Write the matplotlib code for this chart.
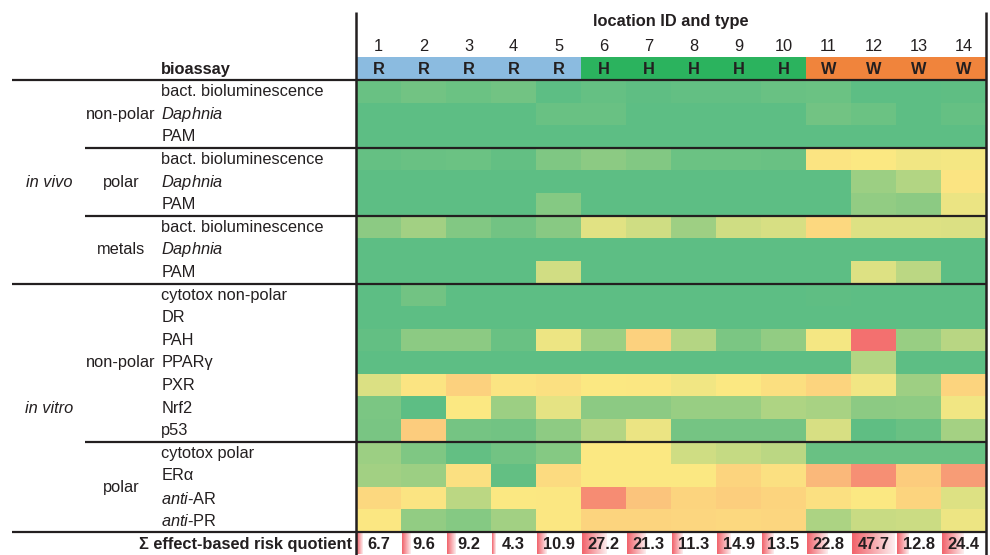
import numpy as np
import matplotlib
matplotlib.use("Agg")
import matplotlib.pyplot as plt
from matplotlib.colors import LinearSegmentedColormap, ListedColormap

plt.rcParams['font.family'] = 'Liberation Sans'
plt.rcParams['mathtext.fontset'] = 'custom'
plt.rcParams['mathtext.rm'] = 'Liberation Sans'
plt.rcParams['mathtext.it'] = 'Liberation Sans:italic'

# locations and their type (R, H, W)
locations = [str(i) for i in range(1, 15)]
loc_types = ['R'] * 5 + ['H'] * 5 + ['W'] * 4

# bioassays (rows), top to bottom
assays = ['bact. bioluminescence', r'$\mathit{Daphnia}$', 'PAM',
          'bact. bioluminescence', r'$\mathit{Daphnia}$', 'PAM',
          'bact. bioluminescence', r'$\mathit{Daphnia}$', 'PAM',
          'cytotox non-polar', 'DR', 'PAH', 'PPARγ', 'PXR', 'Nrf2', 'p53',
          'cytotox polar', 'ERα', r'$\mathit{anti}$-AR', r'$\mathit{anti}$-PR']

# relative risk per bioassay and location (0 = low, 0.5 = medium, 1 = high)
risk = np.array([
    [0.04, 0.07, 0.05, 0.07, 0.00, 0.03, 0.01, 0.02, 0.02, 0.04, 0.05, 0.00, 0.00, 0.01],
    [0.00, 0.00, 0.00, 0.00, 0.04, 0.04, 0.00, 0.00, 0.00, 0.00, 0.07, 0.05, 0.00, 0.03],
    [0.00, 0.00, 0.00, 0.00, 0.00, 0.00, 0.00, 0.00, 0.00, 0.00, 0.00, 0.00, 0.00, 0.00],
    [0.03, 0.04, 0.05, 0.02, 0.11, 0.15, 0.12, 0.05, 0.05, 0.04, 0.52, 0.50, 0.47, 0.48],
    [0.00, 0.00, 0.00, 0.00, 0.00, 0.00, 0.00, 0.00, 0.00, 0.00, 0.00, 0.20, 0.27, 0.52],
    [0.00, 0.00, 0.00, 0.00, 0.13, 0.00, 0.00, 0.00, 0.00, 0.00, 0.00, 0.17, 0.15, 0.45],
    [0.15, 0.22, 0.12, 0.07, 0.14, 0.42, 0.36, 0.21, 0.36, 0.39, 0.58, 0.41, 0.41, 0.40],
    [0.00, 0.00, 0.00, 0.00, 0.00, 0.00, 0.00, 0.00, 0.00, 0.00, 0.00, 0.00, 0.00, 0.00],
    [0.00, 0.00, 0.00, 0.00, 0.37, 0.00, 0.00, 0.00, 0.00, 0.00, 0.00, 0.41, 0.30, 0.00],
    [0.00, 0.07, 0.00, 0.00, 0.00, 0.00, 0.00, 0.00, 0.00, 0.00, 0.01, 0.00, 0.00, 0.00],
    [0.00, 0.00, 0.00, 0.00, 0.00, 0.00, 0.00, 0.00, 0.00, 0.00, 0.00, 0.00, 0.00, 0.00],
    [0.02, 0.15, 0.15, 0.04, 0.46, 0.20, 0.62, 0.28, 0.10, 0.17, 0.48, 1.00, 0.19, 0.29],
    [0.00, 0.00, 0.00, 0.00, 0.00, 0.00, 0.00, 0.00, 0.00, 0.00, 0.00, 0.27, 0.00, 0.00],
    [0.40, 0.52, 0.62, 0.52, 0.54, 0.50, 0.51, 0.47, 0.50, 0.55, 0.60, 0.47, 0.21, 0.60],
    [0.10, 0.00, 0.50, 0.20, 0.43, 0.15, 0.15, 0.19, 0.19, 0.26, 0.24, 0.15, 0.16, 0.47],
    [0.09, 0.64, 0.08, 0.07, 0.16, 0.28, 0.45, 0.08, 0.08, 0.08, 0.39, 0.01, 0.04, 0.23],
    [0.20, 0.11, 0.02, 0.07, 0.13, 0.50, 0.50, 0.36, 0.33, 0.30, 0.04, 0.04, 0.04, 0.04],
    [0.22, 0.20, 0.54, 0.02, 0.57, 0.50, 0.50, 0.50, 0.60, 0.54, 0.72, 0.88, 0.64, 0.83],
    [0.58, 0.52, 0.30, 0.50, 0.51, 0.89, 0.67, 0.60, 0.63, 0.60, 0.54, 0.50, 0.60, 0.41],
    [0.51, 0.17, 0.13, 0.22, 0.51, 0.60, 0.60, 0.59, 0.58, 0.59, 0.25, 0.34, 0.35, 0.46],
])

# summed effect-based risk quotient per location
risk_sum = [6.7, 9.6, 9.2, 4.3, 10.9, 27.2, 21.3, 11.3, 14.9, 13.5, 22.8, 47.7, 12.8, 24.4]

ink = '#231F20'
risk_cmap = LinearSegmentedColormap.from_list(
    'risk', [(0, '#5DBE84'), (0.5, '#FBE983'), (0.62, '#FDD17E'),
             (0.75, '#FAB27A'), (1, '#F3706F')])
type_colors = {'R': '#8BBBE0', 'H': '#2BB35E', 'W': '#F0843C'}
bar_cmap = LinearSegmentedColormap.from_list('bar', ['#F1636B', '#FDEEEF'])

fig = plt.figure(figsize=(9.9, 5.55), dpi=100)
ax = fig.add_axes([0, 0, 1, 1])

# heat map of the bioassays
ax.imshow(risk, cmap=risk_cmap, vmin=0, vmax=1, extent=(0, 14, 20, 0),
          aspect='auto', interpolation='nearest', zorder=1)

# location type strip
type_keys = list(type_colors)
type_idx = np.array([[type_keys.index(t) for t in loc_types]])
ax.imshow(type_idx, cmap=ListedColormap([type_colors[k] for k in type_keys]),
          vmin=-0.5, vmax=len(type_keys) - 0.5, extent=(0, 14, 0, -1),
          aspect='auto', interpolation='nearest', zorder=1)

for j, (loc, t) in enumerate(zip(locations, loc_types)):
    ax.text(j + 0.5, -0.5, t, ha='center', va='center', fontsize=11.8,
            fontweight='bold', color=ink)
    ax.text(j + 0.5, -1.5, loc, ha='center', va='center', fontsize=11.8, color=ink)

ax.text(7, -2.6, 'location ID and type', ha='center', va='center',
        fontsize=11.8, fontweight='bold', color=ink)
ax.text(-4.33, -0.5, 'bioassay', ha='left', va='center', fontsize=11.8,
        fontweight='bold', color=ink)

# row labels
for i, name in enumerate(assays):
    ax.text(-4.33, i + 0.5, name, ha='left', va='center', fontsize=11.8, color=ink)

# grouping labels
groups = [('non-polar', 1.5), ('polar', 4.5), ('metals', 7.5),
          ('non-polar', 12.5), ('polar', 18.0)]
for name, y in groups:
    ax.text(-5.22, y, name, ha='center', va='center', fontsize=11.8, color=ink)
ax.text(-6.82, 4.5, 'in vivo', ha='center', va='center', fontsize=11.8,
        style='italic', color=ink)
ax.text(-6.82, 14.5, 'in vitro', ha='center', va='center', fontsize=11.8,
        style='italic', color=ink)

# data bars for the summed risk quotient
grad = np.linspace(0, 1, 64).reshape(1, -1)
max_sum = max(risk_sum)
for j, v in enumerate(risk_sum):
    w = 0.94 * v / max_sum
    ax.imshow(grad, cmap=bar_cmap, extent=(j + 0.03, j + 0.03 + w, 20.97, 20.06),
              aspect='auto', interpolation='bilinear', zorder=1)
    ax.text(j + 0.5, 20.52, f'{v}', ha='center', va='center', fontsize=11.8,
            fontweight='bold', color=ink, zorder=3)
ax.text(-0.08, 20.52, 'Σ effect-based risk quotient', ha='right', va='center',
        fontsize=11.8, fontweight='bold', color=ink)

# separator lines
for y in (0, 9, 20):
    ax.plot([-7.64, 14], [y, y], color=ink, lw=1.6, zorder=2, solid_capstyle='butt')
for y in (3, 6, 16):
    ax.plot([-6.02, 14], [y, y], color=ink, lw=1.6, zorder=2, solid_capstyle='butt')
for x in (0, 14):
    ax.plot([x, x], [-3.03, 21.1], color=ink, lw=1.8, zorder=2, solid_capstyle='butt')

ax.set_xlim(-356 / 45, (990 - 356) / 45)
ax.set_ylim(21.0, -3.56)
ax.axis('off')

fig.savefig('out.png', dpi=100)
